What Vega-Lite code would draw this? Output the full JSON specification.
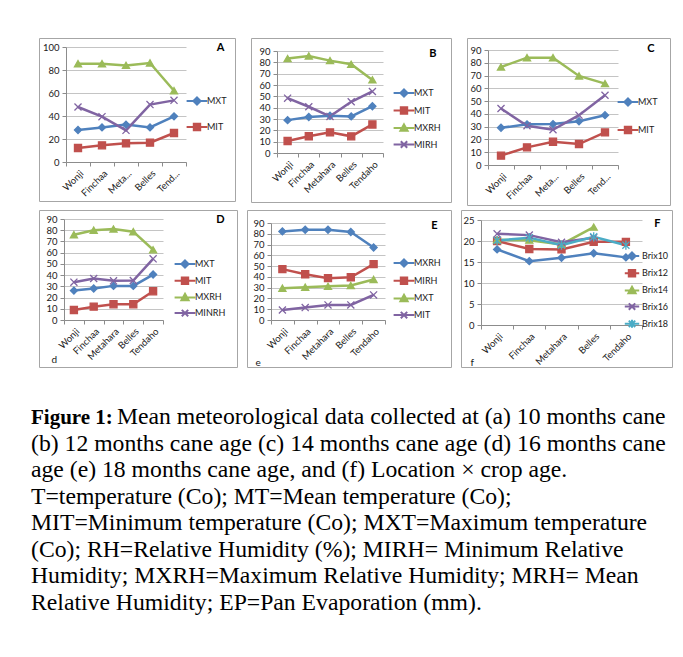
{
  "$schema": "https://vega.github.io/schema/vega-lite/v6.json",
  "background": "white",
  "padding": {"left": 31, "top": 37, "right": 0, "bottom": 0},
  "datasets": {
    "A": [
      {"loc":"Wonji","series":"MXT","v":27.8},{"loc":"Finchaa","series":"MXT","v":30.1},{"loc":"Metahara","series":"MXT","v":32.5},{"loc":"Belles","series":"MXT","v":30.1},{"loc":"Tendaho","series":"MXT","v":39.7},
      {"loc":"Wonji","series":"MIT","v":12.2},{"loc":"Finchaa","series":"MIT","v":14.5},{"loc":"Metahara","series":"MIT","v":16.2},{"loc":"Belles","series":"MIT","v":16.8},{"loc":"Tendaho","series":"MIT","v":25.2},
      {"loc":"Wonji","series":"MXRH","v":85.5},{"loc":"Finchaa","series":"MXRH","v":85.5},{"loc":"Metahara","series":"MXRH","v":84},{"loc":"Belles","series":"MXRH","v":86.1},{"loc":"Tendaho","series":"MXRH","v":62},
      {"loc":"Wonji","series":"MIRH","v":47.8},{"loc":"Finchaa","series":"MIRH","v":39.4},{"loc":"Metahara","series":"MIRH","v":27.5},{"loc":"Belles","series":"MIRH","v":49.9},{"loc":"Tendaho","series":"MIRH","v":53.6}
    ],
    "B": [
      {"loc":"Wonji","series":"MXT","v":29},{"loc":"Finchaa","series":"MXT","v":31.7},{"loc":"Metahara","series":"MXT","v":32.8},{"loc":"Belles","series":"MXT","v":32.3},{"loc":"Tendaho","series":"MXT","v":41.3},
      {"loc":"Wonji","series":"MIT","v":10.6},{"loc":"Finchaa","series":"MIT","v":14.8},{"loc":"Metahara","series":"MIT","v":18.2},{"loc":"Belles","series":"MIT","v":14.7},{"loc":"Tendaho","series":"MIT","v":25.2},
      {"loc":"Wonji","series":"MXRH","v":83.3},{"loc":"Finchaa","series":"MXRH","v":85.6},{"loc":"Metahara","series":"MXRH","v":81.5},{"loc":"Belles","series":"MXRH","v":78.3},{"loc":"Tendaho","series":"MXRH","v":64.5},
      {"loc":"Wonji","series":"MIRH","v":48.4},{"loc":"Finchaa","series":"MIRH","v":40.8},{"loc":"Metahara","series":"MIRH","v":32.3},{"loc":"Belles","series":"MIRH","v":45.2},{"loc":"Tendaho","series":"MIRH","v":54.3}
    ],
    "C": [
      {"loc":"Wonji","series":"MXT","v":29.1},{"loc":"Finchaa","series":"MXT","v":31.8},{"loc":"Metahara","series":"MXT","v":32},{"loc":"Belles","series":"MXT","v":34.3},{"loc":"Tendaho","series":"MXT","v":39},
      {"loc":"Wonji","series":"MIT","v":7.3},{"loc":"Finchaa","series":"MIT","v":13.8},{"loc":"Metahara","series":"MIT","v":18.2},{"loc":"Belles","series":"MIT","v":16.4},{"loc":"Tendaho","series":"MIT","v":25.5},
      {"loc":"Wonji","series":"MXRH","v":76.7},{"loc":"Finchaa","series":"MXRH","v":84},{"loc":"Metahara","series":"MXRH","v":84},{"loc":"Belles","series":"MXRH","v":69.7},{"loc":"Tendaho","series":"MXRH","v":63.7},
      {"loc":"Wonji","series":"MIRH","v":44.2},{"loc":"Finchaa","series":"MIRH","v":30.7},{"loc":"Metahara","series":"MIRH","v":27.6},{"loc":"Belles","series":"MIRH","v":39},{"loc":"Tendaho","series":"MIRH","v":54.6}
    ],
    "D": [
      {"loc":"Wonji","series":"MXT","v":26.2},{"loc":"Finchaa","series":"MXT","v":28},{"loc":"Metahara","series":"MXT","v":30.4},{"loc":"Belles","series":"MXT","v":30.4},{"loc":"Tendaho","series":"MXT","v":40.5},
      {"loc":"Wonji","series":"MIT","v":8.9},{"loc":"Finchaa","series":"MIT","v":11.9},{"loc":"Metahara","series":"MIT","v":14},{"loc":"Belles","series":"MIT","v":14},{"loc":"Tendaho","series":"MIT","v":25.6},
      {"loc":"Wonji","series":"MXRH","v":76},{"loc":"Finchaa","series":"MXRH","v":80},{"loc":"Metahara","series":"MXRH","v":81.1},{"loc":"Belles","series":"MXRH","v":78.7},{"loc":"Tendaho","series":"MXRH","v":62.6},
      {"loc":"Wonji","series":"MINRH","v":33.7},{"loc":"Finchaa","series":"MINRH","v":37},{"loc":"Metahara","series":"MINRH","v":34.9},{"loc":"Belles","series":"MINRH","v":35.2},{"loc":"Tendaho","series":"MINRH","v":54.5}
    ],
    "E": [
      {"loc":"Wonji","series":"MXRH","v":82.2},{"loc":"Finchaa","series":"MXRH","v":83.8},{"loc":"Metahara","series":"MXRH","v":83.8},{"loc":"Belles","series":"MXRH","v":81.6},{"loc":"Tendaho","series":"MXRH","v":67.3},
      {"loc":"Wonji","series":"MIRH","v":47.2},{"loc":"Finchaa","series":"MIRH","v":42.5},{"loc":"Metahara","series":"MIRH","v":38.8},{"loc":"Belles","series":"MIRH","v":39.7},{"loc":"Tendaho","series":"MIRH","v":51.8},
      {"loc":"Wonji","series":"MXT","v":29.5},{"loc":"Finchaa","series":"MXT","v":30.4},{"loc":"Metahara","series":"MXT","v":31.3},{"loc":"Belles","series":"MXT","v":32},{"loc":"Tendaho","series":"MXT","v":37.6},
      {"loc":"Wonji","series":"MIT","v":9.3},{"loc":"Finchaa","series":"MIT","v":11.5},{"loc":"Metahara","series":"MIT","v":14},{"loc":"Belles","series":"MIT","v":14},{"loc":"Tendaho","series":"MIT","v":23.3}
    ],
    "F": [
      {"loc":"Wonji","series":"Brix10","v":18},{"loc":"Finchaa","series":"Brix10","v":15.2},{"loc":"Metahara","series":"Brix10","v":16},{"loc":"Belles","series":"Brix10","v":17.1},{"loc":"Tendaho","series":"Brix10","v":16.1},
      {"loc":"Wonji","series":"Brix12","v":20},{"loc":"Finchaa","series":"Brix12","v":18.1},{"loc":"Metahara","series":"Brix12","v":18},{"loc":"Belles","series":"Brix12","v":19.8},{"loc":"Tendaho","series":"Brix12","v":19.8},
      {"loc":"Wonji","series":"Brix14","v":20.3},{"loc":"Finchaa","series":"Brix14","v":20.2},{"loc":"Metahara","series":"Brix14","v":19.2},{"loc":"Belles","series":"Brix14","v":23.3},
      {"loc":"Wonji","series":"Brix16","v":21.7},{"loc":"Finchaa","series":"Brix16","v":21.4},{"loc":"Metahara","series":"Brix16","v":19.7},{"loc":"Belles","series":"Brix16","v":20.8},
      {"loc":"Wonji","series":"Brix18","v":20.1},{"loc":"Finchaa","series":"Brix18","v":20.8},{"loc":"Metahara","series":"Brix18","v":19},{"loc":"Belles","series":"Brix18","v":21},{"loc":"Tendaho","series":"Brix18","v":19}
    ],
    "cap1": [{"line":1,"t":"Figure 1:"}],
    "cap1b": [{"line":1,"t":"Mean meteorological data collected at (a) 10 months cane"}],
    "cap": [
      {"line":2,"t":"(b) 12 months cane age (c) 14 months cane age (d) 16 months cane"},
      {"line":3,"t":"age (e) 18 months cane age, and (f) Location × crop age."},
      {"line":4,"t":"T=temperature (Co); MT=Mean temperature (Co);"},
      {"line":5,"t":"MIT=Minimum temperature (Co); MXT=Maximum temperature"},
      {"line":6,"t":"(Co); RH=Relative Humidity (%); MIRH= Minimum Relative"},
      {"line":7,"t":"Humidity; MXRH=Maximum Relative Humidity; MRH= Mean"},
      {"line":8,"t":"Relative Humidity; EP=Pan Evaporation (mm)."}
    ]
  },
  "vconcat": [
    {
      "vconcat": [
        {
          "hconcat": [
            {
              "width": 196, "height": 163,
              "data": {"name": "A"},
              "encoding": {
                "x": {"field": "loc", "type": "nominal", "sort": ["Wonji","Finchaa","Metahara","Belles","Tendaho"],
                      "scale": {"type": "band", "range": [27,147], "paddingInner": 0, "paddingOuter": 0},
                      "axis": {"title": null, "offset": -39, "labelExpr": "datum.label == 'Metahara' ? 'Meta...' : datum.label == 'Tendaho' ? 'Tend...' : datum.label"}},
                "y": {"field": "v", "type": "quantitative", "scale": {"domain": [0,100], "range": [124,9], "nice": false},
                      "axis": {"title": "A", "titleX": 158, "titleY": 9, "titleAlign": "right", "titleFontWeight": "bold", "titleFontSize": 11, "titleColor": "#000", "offset": -27, "values": [0,20,40,60,80,100]}}
              },
              "layer": [
                {"mark": {"type": "line", "strokeWidth": 2.5},
                 "encoding": {"color": {"field": "series", "type": "nominal", "legend": null, "scale": {"domain": ["MXT","MIT","MXRH","MIRH"], "range": ["#4F81BD","#C0504D","#9BBB59","#8064A2"]}}}},
                {"mark": {"type": "point", "filled": true, "size": 50, "strokeWidth": 1.3, "opacity": 1},
                 "encoding": {
                   "color": {"field": "series", "type": "nominal", "legend": null, "scale": {"domain": ["MXT","MIT","MXRH","MIRH"], "range": ["#4F81BD","#C0504D","#9BBB59","#8064A2"]}},
                   "stroke": {"field": "series", "type": "nominal", "legend": null, "scale": {"domain": ["MXT","MIT","MXRH","MIRH"], "range": ["#4F81BD","#C0504D","#9BBB59","#8064A2"]}},
                   "shape": {"field": "series", "type": "nominal", "legend": null, "scale": {"domain": ["MXT","MIT","MXRH","MIRH"], "range": ["diamond","square","triangle-up","M-1,-1L1,1M1,-1L-1,1"]}}}},
                {"mark": {"type": "point", "filled": true, "size": 64, "opacity": 0},
                 "encoding": {
                   "color": {"field": "series", "type": "nominal", "legend": {"title": null, "orient": "none", "legendX": 153, "legendY": 58, "rowPadding": 10, "values": ["MXT","MIT"]}, "scale": {"domain": ["MXT","MIT","MXRH","MIRH"], "range": ["#4F81BD","#C0504D","#9BBB59","#8064A2"]}},
                   "stroke": {"field": "series", "type": "nominal", "legend": {"title": null, "orient": "none", "legendX": 153, "legendY": 58, "rowPadding": 10, "values": ["MXT","MIT"]}, "scale": {"domain": ["MXT","MIT","MXRH","MIRH"], "range": ["#4F81BD","#C0504D","#9BBB59","#8064A2"]}},
                   "shape": {"field": "series", "type": "nominal", "legend": {"title": null, "orient": "none", "legendX": 153, "legendY": 58, "rowPadding": 10, "values": ["MXT","MIT"]}, "scale": {"domain": ["MXT","MIT","MXRH","MIRH"], "range": ["M-2.6,0H2.6M0,-0.9L0.9,0L0,0.9L-0.9,0Z","M-2.6,0H2.6M-0.8,-0.8H0.8V0.8H-0.8Z","M-2.6,0H2.6M0,-0.9L0.9,0.7H-0.9Z","M-2.6,0H2.6M-0.8,-0.8L0.8,0.8M0.8,-0.8L-0.8,0.8"]}}}}
              ],
              "resolve": {"scale": {"color": "independent", "stroke": "independent", "shape": "independent"}}
            },
            {
              "width": 200, "height": 164,
              "data": {"name": "B"},
              "encoding": {
                "x": {"field": "loc", "type": "nominal", "sort": ["Wonji","Finchaa","Metahara","Belles","Tendaho"],
                      "scale": {"type": "band", "range": [26,132], "paddingInner": 0, "paddingOuter": 0},
                      "axis": {"title": null, "offset": -49}},
                "y": {"field": "v", "type": "quantitative", "scale": {"domain": [0,90], "range": [115,13], "nice": false},
                      "axis": {"title": "B", "titleX": 159, "titleY": 15, "titleAlign": "right", "titleFontWeight": "bold", "titleFontSize": 11, "titleColor": "#000", "offset": -26, "values": [0,10,20,30,40,50,60,70,80,90]}}
              },
              "layer": [
                {"mark": {"type": "line", "strokeWidth": 2.5},
                 "encoding": {"color": {"field": "series", "type": "nominal", "legend": null, "scale": {"domain": ["MXT","MIT","MXRH","MIRH"], "range": ["#4F81BD","#C0504D","#9BBB59","#8064A2"]}}}},
                {"mark": {"type": "point", "filled": true, "size": 50, "strokeWidth": 1.3, "opacity": 1},
                 "encoding": {
                   "color": {"field": "series", "type": "nominal", "legend": null, "scale": {"domain": ["MXT","MIT","MXRH","MIRH"], "range": ["#4F81BD","#C0504D","#9BBB59","#8064A2"]}},
                   "stroke": {"field": "series", "type": "nominal", "legend": null, "scale": {"domain": ["MXT","MIT","MXRH","MIRH"], "range": ["#4F81BD","#C0504D","#9BBB59","#8064A2"]}},
                   "shape": {"field": "series", "type": "nominal", "legend": null, "scale": {"domain": ["MXT","MIT","MXRH","MIRH"], "range": ["diamond","square","triangle-up","M-1,-1L1,1M1,-1L-1,1"]}}}},
                {"mark": {"type": "point", "filled": true, "size": 64, "opacity": 0},
                 "encoding": {
                   "color": {"field": "series", "type": "nominal", "legend": {"title": null, "orient": "none", "legendX": 148, "legendY": 50, "rowPadding": 1.5}, "scale": {"domain": ["MXT","MIT","MXRH","MIRH"], "range": ["#4F81BD","#C0504D","#9BBB59","#8064A2"]}},
                   "stroke": {"field": "series", "type": "nominal", "legend": {"title": null, "orient": "none", "legendX": 148, "legendY": 50, "rowPadding": 1.5}, "scale": {"domain": ["MXT","MIT","MXRH","MIRH"], "range": ["#4F81BD","#C0504D","#9BBB59","#8064A2"]}},
                   "shape": {"field": "series", "type": "nominal", "legend": {"title": null, "orient": "none", "legendX": 148, "legendY": 50, "rowPadding": 1.5}, "scale": {"domain": ["MXT","MIT","MXRH","MIRH"], "range": ["M-2.6,0H2.6M0,-0.9L0.9,0L0,0.9L-0.9,0Z","M-2.6,0H2.6M-0.8,-0.8H0.8V0.8H-0.8Z","M-2.6,0H2.6M0,-0.9L0.9,0.7H-0.9Z","M-2.6,0H2.6M-0.8,-0.8L0.8,0.8M0.8,-0.8L-0.8,0.8"]}}}}
              ],
              "resolve": {"scale": {"color": "independent", "stroke": "independent", "shape": "independent"}}
            },
            {
              "width": 203, "height": 167,
              "data": {"name": "C"},
              "encoding": {
                "x": {"field": "loc", "type": "nominal", "sort": ["Wonji","Finchaa","Metahara","Belles","Tendaho"],
                      "scale": {"type": "band", "range": [21,151], "paddingInner": 0, "paddingOuter": 0},
                      "axis": {"title": null, "offset": -40, "labelExpr": "datum.label == 'Metahara' ? 'Meta...' : datum.label == 'Tendaho' ? 'Tend...' : datum.label"}},
                "y": {"field": "v", "type": "quantitative", "scale": {"domain": [0,90], "range": [127,12], "nice": false},
                      "axis": {"title": "C", "titleX": 166, "titleY": 10, "titleAlign": "right", "titleFontWeight": "bold", "titleFontSize": 11, "titleColor": "#000", "offset": -21, "values": [0,10,20,30,40,50,60,70,80,90]}}
              },
              "layer": [
                {"mark": {"type": "line", "strokeWidth": 2.5},
                 "encoding": {"color": {"field": "series", "type": "nominal", "legend": null, "scale": {"domain": ["MXT","MIT","MXRH","MIRH"], "range": ["#4F81BD","#C0504D","#9BBB59","#8064A2"]}}}},
                {"mark": {"type": "point", "filled": true, "size": 50, "strokeWidth": 1.3, "opacity": 1},
                 "encoding": {
                   "color": {"field": "series", "type": "nominal", "legend": null, "scale": {"domain": ["MXT","MIT","MXRH","MIRH"], "range": ["#4F81BD","#C0504D","#9BBB59","#8064A2"]}},
                   "stroke": {"field": "series", "type": "nominal", "legend": null, "scale": {"domain": ["MXT","MIT","MXRH","MIRH"], "range": ["#4F81BD","#C0504D","#9BBB59","#8064A2"]}},
                   "shape": {"field": "series", "type": "nominal", "legend": null, "scale": {"domain": ["MXT","MIT","MXRH","MIRH"], "range": ["diamond","square","triangle-up","M-1,-1L1,1M1,-1L-1,1"]}}}},
                {"mark": {"type": "point", "filled": true, "size": 64, "opacity": 0},
                 "encoding": {
                   "color": {"field": "series", "type": "nominal", "legend": {"title": null, "orient": "none", "legendX": 156, "legendY": 59, "rowPadding": 12, "values": ["MXT","MIT"]}, "scale": {"domain": ["MXT","MIT","MXRH","MIRH"], "range": ["#4F81BD","#C0504D","#9BBB59","#8064A2"]}},
                   "stroke": {"field": "series", "type": "nominal", "legend": {"title": null, "orient": "none", "legendX": 156, "legendY": 59, "rowPadding": 12, "values": ["MXT","MIT"]}, "scale": {"domain": ["MXT","MIT","MXRH","MIRH"], "range": ["#4F81BD","#C0504D","#9BBB59","#8064A2"]}},
                   "shape": {"field": "series", "type": "nominal", "legend": {"title": null, "orient": "none", "legendX": 156, "legendY": 59, "rowPadding": 12, "values": ["MXT","MIT"]}, "scale": {"domain": ["MXT","MIT","MXRH","MIRH"], "range": ["M-2.6,0H2.6M0,-0.9L0.9,0L0,0.9L-0.9,0Z","M-2.6,0H2.6M-0.8,-0.8H0.8V0.8H-0.8Z","M-2.6,0H2.6M0,-0.9L0.9,0.7H-0.9Z","M-2.6,0H2.6M-0.8,-0.8L0.8,0.8M0.8,-0.8L-0.8,0.8"]}}}}
              ],
              "resolve": {"scale": {"color": "independent", "stroke": "independent", "shape": "independent"}}
            }
          ],
          "spacing": 14
        },
        {
          "hconcat": [
            {
              "width": 198, "height": 157,
              "data": {"name": "D"},
              "encoding": {
                "x": {"field": "loc", "type": "nominal", "sort": ["Wonji","Finchaa","Metahara","Belles","Tendaho"],
                      "scale": {"type": "band", "range": [25,124], "paddingInner": 0, "paddingOuter": 0},
                      "axis": {"title": "d", "offset": -47, "titleX": 12, "titleY": 39}},
                "y": {"field": "v", "type": "quantitative", "scale": {"domain": [0,90], "range": [110,9], "nice": false},
                      "axis": {"title": "D", "titleX": 160, "titleY": 9, "titleAlign": "right", "titleFontWeight": "bold", "titleFontSize": 11, "titleColor": "#000", "offset": -25, "values": [0,10,20,30,40,50,60,70,80,90]}}
              },
              "layer": [
                {"mark": {"type": "line", "strokeWidth": 2.5},
                 "encoding": {"color": {"field": "series", "type": "nominal", "legend": null, "scale": {"domain": ["MXT","MIT","MXRH","MINRH"], "range": ["#4F81BD","#C0504D","#9BBB59","#8064A2"]}}}},
                {"mark": {"type": "point", "filled": true, "size": 50, "strokeWidth": 1.3, "opacity": 1},
                 "encoding": {
                   "color": {"field": "series", "type": "nominal", "legend": null, "scale": {"domain": ["MXT","MIT","MXRH","MINRH"], "range": ["#4F81BD","#C0504D","#9BBB59","#8064A2"]}},
                   "stroke": {"field": "series", "type": "nominal", "legend": null, "scale": {"domain": ["MXT","MIT","MXRH","MINRH"], "range": ["#4F81BD","#C0504D","#9BBB59","#8064A2"]}},
                   "shape": {"field": "series", "type": "nominal", "legend": null, "scale": {"domain": ["MXT","MIT","MXRH","MINRH"], "range": ["diamond","square","triangle-up","M-1,-1L1,1M1,-1L-1,1"]}}}},
                {"mark": {"type": "point", "filled": true, "size": 64, "opacity": 0},
                 "encoding": {
                   "color": {"field": "series", "type": "nominal", "legend": {"title": null, "orient": "none", "legendX": 141, "legendY": 49, "rowPadding": 0.7}, "scale": {"domain": ["MXT","MIT","MXRH","MINRH"], "range": ["#4F81BD","#C0504D","#9BBB59","#8064A2"]}},
                   "stroke": {"field": "series", "type": "nominal", "legend": {"title": null, "orient": "none", "legendX": 141, "legendY": 49, "rowPadding": 0.7}, "scale": {"domain": ["MXT","MIT","MXRH","MINRH"], "range": ["#4F81BD","#C0504D","#9BBB59","#8064A2"]}},
                   "shape": {"field": "series", "type": "nominal", "legend": {"title": null, "orient": "none", "legendX": 141, "legendY": 49, "rowPadding": 0.7}, "scale": {"domain": ["MXT","MIT","MXRH","MINRH"], "range": ["M-2.6,0H2.6M0,-0.9L0.9,0L0,0.9L-0.9,0Z","M-2.6,0H2.6M-0.8,-0.8H0.8V0.8H-0.8Z","M-2.6,0H2.6M0,-0.9L0.9,0.7H-0.9Z","M-2.6,0H2.6M-0.8,-0.8L0.8,0.8M0.8,-0.8L-0.8,0.8"]}}}}
              ],
              "resolve": {"scale": {"color": "independent", "stroke": "independent", "shape": "independent"}}
            },
            {
              "width": 204, "height": 157,
              "data": {"name": "E"},
              "encoding": {
                "x": {"field": "loc", "type": "nominal", "sort": ["Wonji","Finchaa","Metahara","Belles","Tendaho"],
                      "scale": {"type": "band", "range": [24,138], "paddingInner": 0, "paddingOuter": 0},
                      "axis": {"title": "e", "offset": -47, "titleX": 8, "titleY": 42}},
                "y": {"field": "v", "type": "quantitative", "scale": {"domain": [0,90], "range": [110,13], "nice": false},
                      "axis": {"title": "E", "titleX": 166, "titleY": 15, "titleAlign": "right", "titleFontWeight": "bold", "titleFontSize": 11, "titleColor": "#000", "offset": -24, "values": [0,10,20,30,40,50,60,70,80,90]}}
              },
              "layer": [
                {"mark": {"type": "line", "strokeWidth": 2.5},
                 "encoding": {"color": {"field": "series", "type": "nominal", "legend": null, "scale": {"domain": ["MXRH","MIRH","MXT","MIT"], "range": ["#4F81BD","#C0504D","#9BBB59","#8064A2"]}}}},
                {"mark": {"type": "point", "filled": true, "size": 50, "strokeWidth": 1.3, "opacity": 1},
                 "encoding": {
                   "color": {"field": "series", "type": "nominal", "legend": null, "scale": {"domain": ["MXRH","MIRH","MXT","MIT"], "range": ["#4F81BD","#C0504D","#9BBB59","#8064A2"]}},
                   "stroke": {"field": "series", "type": "nominal", "legend": null, "scale": {"domain": ["MXRH","MIRH","MXT","MIT"], "range": ["#4F81BD","#C0504D","#9BBB59","#8064A2"]}},
                   "shape": {"field": "series", "type": "nominal", "legend": null, "scale": {"domain": ["MXRH","MIRH","MXT","MIT"], "range": ["diamond","square","triangle-up","M-1,-1L1,1M1,-1L-1,1"]}}}},
                {"mark": {"type": "point", "filled": true, "size": 64, "opacity": 0},
                 "encoding": {
                   "color": {"field": "series", "type": "nominal", "legend": {"title": null, "orient": "none", "legendX": 152, "legendY": 48, "rowPadding": 1.7}, "scale": {"domain": ["MXRH","MIRH","MXT","MIT"], "range": ["#4F81BD","#C0504D","#9BBB59","#8064A2"]}},
                   "stroke": {"field": "series", "type": "nominal", "legend": {"title": null, "orient": "none", "legendX": 152, "legendY": 48, "rowPadding": 1.7}, "scale": {"domain": ["MXRH","MIRH","MXT","MIT"], "range": ["#4F81BD","#C0504D","#9BBB59","#8064A2"]}},
                   "shape": {"field": "series", "type": "nominal", "legend": {"title": null, "orient": "none", "legendX": 152, "legendY": 48, "rowPadding": 1.7}, "scale": {"domain": ["MXRH","MIRH","MXT","MIT"], "range": ["M-2.6,0H2.6M0,-0.9L0.9,0L0,0.9L-0.9,0Z","M-2.6,0H2.6M-0.8,-0.8H0.8V0.8H-0.8Z","M-2.6,0H2.6M0,-0.9L0.9,0.7H-0.9Z","M-2.6,0H2.6M-0.8,-0.8L0.8,0.8M0.8,-0.8L-0.8,0.8"]}}}}
              ],
              "resolve": {"scale": {"color": "independent", "stroke": "independent", "shape": "independent"}}
            },
            {
              "width": 211, "height": 157,
              "data": {"name": "F"},
              "encoding": {
                "x": {"field": "loc", "type": "nominal", "sort": ["Wonji","Finchaa","Metahara","Belles","Tendaho"],
                      "scale": {"type": "band", "range": [20,181], "paddingInner": 0, "paddingOuter": 0},
                      "axis": {"title": "f", "offset": -42, "titleX": 9, "titleY": 37}},
                "y": {"field": "v", "type": "quantitative", "scale": {"domain": [0,25], "range": [115,10], "nice": false},
                      "axis": {"title": "F", "titleX": 179, "titleY": 13, "titleAlign": "right", "titleFontWeight": "bold", "titleFontSize": 11, "titleColor": "#000", "offset": -20, "values": [0,5,10,15,20,25]}}
              },
              "layer": [
                {"mark": {"type": "line", "strokeWidth": 2.5},
                 "encoding": {"color": {"field": "series", "type": "nominal", "legend": null, "scale": {"domain": ["Brix10","Brix12","Brix14","Brix16","Brix18"], "range": ["#4F81BD","#C0504D","#9BBB59","#8064A2","#4BACC6"]}}}},
                {"mark": {"type": "point", "filled": true, "size": 50, "strokeWidth": 1.3, "opacity": 1},
                 "encoding": {
                   "color": {"field": "series", "type": "nominal", "legend": null, "scale": {"domain": ["Brix10","Brix12","Brix14","Brix16","Brix18"], "range": ["#4F81BD","#C0504D","#9BBB59","#8064A2","#4BACC6"]}},
                   "stroke": {"field": "series", "type": "nominal", "legend": null, "scale": {"domain": ["Brix10","Brix12","Brix14","Brix16","Brix18"], "range": ["#4F81BD","#C0504D","#9BBB59","#8064A2","#4BACC6"]}},
                   "shape": {"field": "series", "type": "nominal", "legend": null, "scale": {"domain": ["Brix10","Brix12","Brix14","Brix16","Brix18"], "range": ["diamond","square","triangle-up","M-1,-1L1,1M1,-1L-1,1","M-1,-1L1,1M1,-1L-1,1M0,-1.3L0,1.3"]}}}},
                {"mark": {"type": "point", "filled": true, "size": 64, "opacity": 0},
                 "encoding": {
                   "color": {"field": "series", "type": "nominal", "legend": {"title": null, "orient": "none", "legendX": 166, "legendY": 41, "rowPadding": 1.2}, "scale": {"domain": ["Brix10","Brix12","Brix14","Brix16","Brix18"], "range": ["#4F81BD","#C0504D","#9BBB59","#8064A2","#4BACC6"]}},
                   "stroke": {"field": "series", "type": "nominal", "legend": {"title": null, "orient": "none", "legendX": 166, "legendY": 41, "rowPadding": 1.2}, "scale": {"domain": ["Brix10","Brix12","Brix14","Brix16","Brix18"], "range": ["#4F81BD","#C0504D","#9BBB59","#8064A2","#4BACC6"]}},
                   "shape": {"field": "series", "type": "nominal", "legend": {"title": null, "orient": "none", "legendX": 166, "legendY": 41, "rowPadding": 1.2}, "scale": {"domain": ["Brix10","Brix12","Brix14","Brix16","Brix18"], "range": ["M-1.8,0H1.8M0,-0.9L0.9,0L0,0.9L-0.9,0Z","M-1.8,0H1.8M-0.8,-0.8H0.8V0.8H-0.8Z","M-1.8,0H1.8M0,-0.9L0.9,0.7H-0.9Z","M-1.8,0H1.8M-0.8,-0.8L0.8,0.8M0.8,-0.8L-0.8,0.8","M-1.8,0H1.8M-0.8,-0.8L0.8,0.8M0.8,-0.8L-0.8,0.8M0,-1L0,1"]}}}}
              ],
              "resolve": {"scale": {"color": "independent", "stroke": "independent", "shape": "independent"}}
            }
          ],
          "spacing": 8
        }
      ],
      "spacing": 3
    },
    {
      "width": 640, "height": 245,
      "view": {"stroke": null},
      "encoding": {
        "x": {"datum": 0, "type": "quantitative", "scale": {"domain": [0,1], "range": [-8,632]}, "axis": null},
        "y": {"field": "line", "type": "quantitative", "scale": {"domain": [1,8], "range": [48,234]}, "axis": null},
        "text": {"field": "t", "type": "nominal"}
      },
      "layer": [
        {"data": {"name": "cap1"}, "mark": {"type": "text", "align": "left", "baseline": "alphabetic", "font": "Liberation Serif", "fontSize": 21, "fontWeight": "bold", "color": "#000"}},
        {"data": {"name": "cap1b"}, "mark": {"type": "text", "align": "left", "baseline": "alphabetic", "font": "Liberation Serif", "fontSize": 23.7, "dx": 86, "color": "#000"}},
        {"data": {"name": "cap"}, "mark": {"type": "text", "align": "left", "baseline": "alphabetic", "font": "Liberation Serif", "fontSize": 23.7, "color": "#000"}}
      ]
    }
  ],
  "spacing": 8,
  "config": {
    "font": "Lato",
    "view": {"stroke": "#a6a6a6", "strokeWidth": 1},
    "axis": {"domainColor": "#8c8c8c", "tickColor": "#8c8c8c", "gridColor": "#c4c4c4", "labelFont": "Lato", "labelFontSize": 9.5, "labelColor": "#1a1a1a", "tickSize": 4, "titleFont": "Lato", "titleFontWeight": "normal", "titleFontSize": 10, "titleColor": "#1a1a1a", "titleAngle": 0, "titleAlign": "left", "titleBaseline": "middle"},
    "axisX": {"labelAngle": -45, "grid": false, "tickBand": "extent", "labelPadding": 2},
    "axisY": {"grid": true, "labelPadding": 3},
    "legend": {"labelFont": "Lato", "labelFontSize": 9, "labelColor": "#1a1a1a", "symbolSize": 64, "symbolStrokeWidth": 2, "symbolOpacity": 1, "labelOffset": 5, "padding": 0}
  }
}
